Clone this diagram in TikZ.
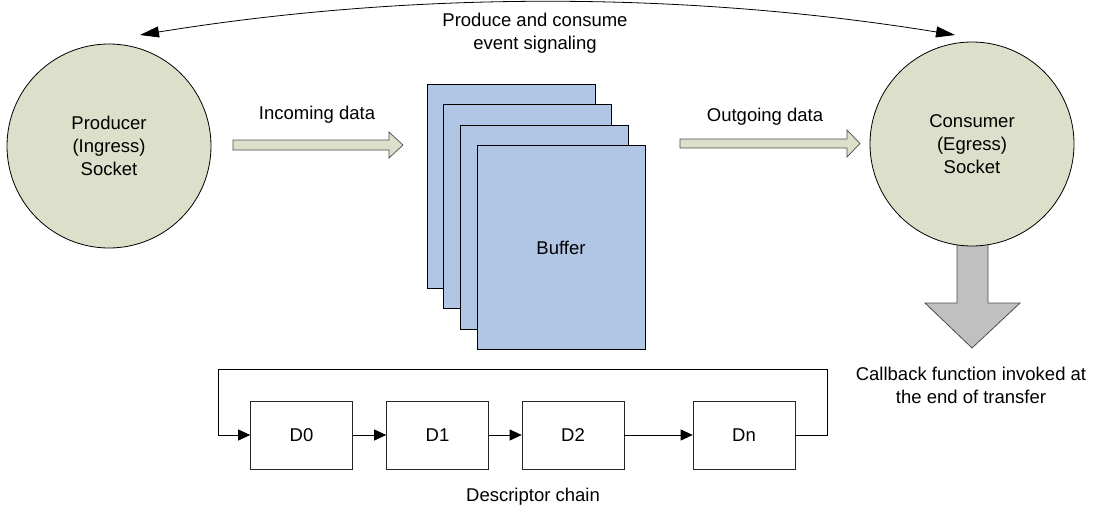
\documentclass[tikz,border=0pt]{standalone}
\usepackage{fontspec}
\setmainfont{Liberation Sans}
\usetikzlibrary{arrows.meta,calc}
\definecolor{sockfill}{RGB}{220,224,202}
\definecolor{buffill}{RGB}{177,197,228}
\definecolor{grayfill}{RGB}{192,192,192}
\begin{document}
\begin{tikzpicture}[x=1pt,y=-1pt,
  txt/.style={font=\fontsize{18.5}{23}\selectfont, align=center, inner sep=0pt},
  sock/.style={circle, draw=black, line width=0.8pt, fill=sockfill, minimum size=204pt, inner sep=0pt, txt},
  buf/.style={rectangle, draw=black, line width=0.9pt, fill=buffill, minimum width=168pt, minimum height=204pt, inner sep=0pt, txt},
  desc/.style={rectangle, draw=black!85, line width=0.7pt, minimum width=102pt, minimum height=68pt, inner sep=0pt, txt},
  flow/.style={draw=black!70, line width=0.7pt, fill=sockfill},
  cbarrow/.style={draw=black!70, line width=0.8pt, fill=grayfill},
  chainarrow/.style={-{Triangle[length=12pt,width=11pt]}, line width=0.7pt},
  sigarrow/.style={{Triangle[length=19pt,width=11pt]}-{Triangle[length=19pt,width=11pt]}, line width=0.8pt}]
\useasboundingbox (0,0) rectangle (1102,512);

% callback arrow (drawn under the consumer circle)
\draw[cbarrow] (957,240) -- (957,303) -- (925,303) -- (972,348) -- (1020,303) -- (988,303) -- (988,240) -- cycle;

% sockets
\node[sock] (pc) at (109,146) {Producer\\(Ingress)\\Socket};
\node[sock] (cc) at (972,144) {Consumer\\(Egress)\\Socket};

% signaling arc
\coordinate (sigL) at (140,35);
\coordinate (sigR) at (955,35);
\draw[sigarrow] (sigL) .. controls (412,-9) and (684,-9) .. (sigR);
\node[txt] (sigtxt) at (535,33) {Produce and consume\\event signaling};

% buffers
\node[buf] (b1) at (511,186) {};
\node[buf] (b2) at (527.7,206.5) {};
\node[buf] (b3) at (544.3,227) {};
\node[buf] (b4) at (561,247.5) {Buffer};

% data flow arrows
\draw[flow] (233,140) -- (389,140) -- (389,132) -- (403,145) -- (389,158) -- (389,150) -- (233,150) -- cycle;
\node[txt] (intxt) at (317,115) {Incoming data};
\draw[flow] (680,139) -- (847,139) -- (847,130) -- (860,143.5) -- (847,157) -- (847,148) -- (680,148) -- cycle;
\node[txt] (outtxt) at (765,117) {Outgoing data};

\node[txt] (cbtxt) at (971,385) {Callback function invoked at\\the end of transfer};

% descriptor chain
\node[desc] (d0) at (301.5,435) {D0};
\node[desc] (d1) at (437.5,435) {D1};
\node[desc] (d2) at (573,435) {D2};
\node[desc] (dn) at (744,435) {Dn};
\draw[chainarrow] (d0.east) -- (d1.west);
\draw[chainarrow] (d1.east) -- (d2.west);
\draw[chainarrow] (d2.east) -- (dn.west);
\coordinate (loopR) at (827,369);
\coordinate (loopL) at (218,369);
\draw[chainarrow] (dn.east) -| (loopR) -- (loopL) |- (d0.west);
\node[txt] (dctxt) at (533,497) {Descriptor chain};
\end{tikzpicture}
\end{document}
